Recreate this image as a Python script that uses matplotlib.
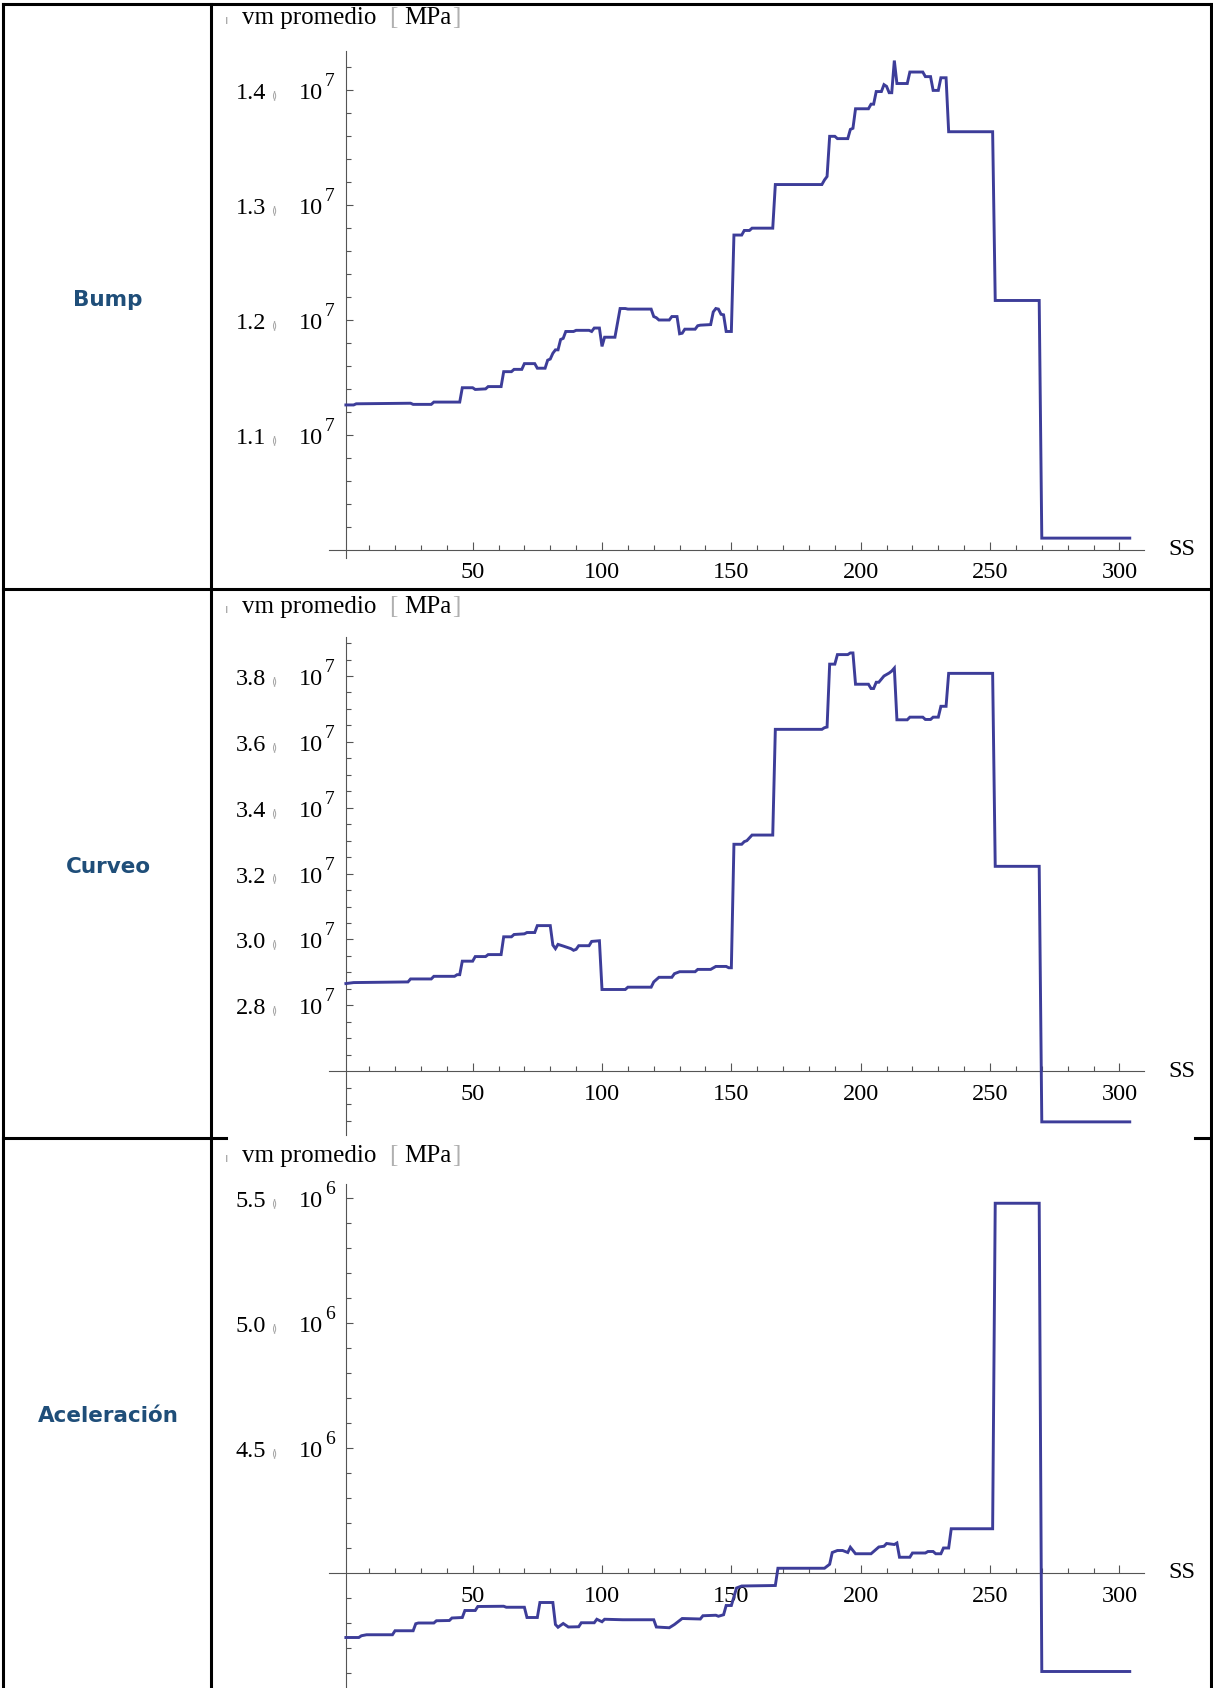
import matplotlib
matplotlib.use("Agg")
import matplotlib.pyplot as plt
from matplotlib.lines import Line2D
from matplotlib.ticker import FixedLocator, NullFormatter

# ---------------------------------------------------------------- data
row_titles = ["Bump", "Curveo", "Aceleración"]

ss_bump = [1, 4, 5, 26, 27, 34, 35, 45, 46, 50, 51, 55, 56, 61, 62, 65, 66, 69, 70, 74,
           75, 78, 79, 80, 81, 82, 83, 84, 85, 86, 89, 90, 95, 96, 97, 99, 100, 101, 105, 107,
           109, 110, 119, 120, 121, 122, 126, 127, 129, 130, 131, 132, 136, 137, 138, 142, 143, 144, 145, 146,
           147, 148, 150, 151, 154, 155, 157, 158, 166, 167, 185, 186, 187, 188, 190, 191, 195, 196, 197, 198,
           203, 204, 205, 206, 208, 209, 210, 211, 212, 213, 214, 218, 219, 224, 225, 227, 228, 230, 231, 233,
           234, 251, 252, 269, 270, 304]
vm_bump = [11.26e6, 11.26e6, 11.27e6, 11.275e6, 11.265e6, 11.265e6, 11.285e6, 11.285e6, 11.41e6, 11.41e6,
           11.395e6, 11.40e6, 11.42e6, 11.42e6, 11.55e6, 11.55e6, 11.57e6, 11.57e6, 11.62e6, 11.62e6,
           11.58e6, 11.58e6, 11.65e6, 11.66e6, 11.71e6, 11.74e6, 11.74e6, 11.83e6, 11.84e6, 11.90e6,
           11.90e6, 11.91e6, 11.91e6, 11.90e6, 11.93e6, 11.93e6, 11.77e6, 11.85e6, 11.85e6, 12.10e6,
           12.10e6, 12.095e6, 12.095e6, 12.03e6, 12.02e6, 12.00e6, 12.00e6, 12.03e6, 12.03e6, 11.88e6,
           11.885e6, 11.92e6, 11.92e6, 11.95e6, 11.955e6, 11.96e6, 12.07e6, 12.10e6, 12.095e6, 12.05e6,
           12.045e6, 11.90e6, 11.90e6, 12.74e6, 12.74e6, 12.78e6, 12.78e6, 12.80e6, 12.80e6, 13.18e6,
           13.18e6, 13.22e6, 13.25e6, 13.60e6, 13.60e6, 13.58e6, 13.58e6, 13.66e6, 13.67e6, 13.84e6,
           13.84e6, 13.88e6, 13.88e6, 13.99e6, 13.99e6, 14.05e6, 14.035e6, 13.98e6, 13.98e6, 14.26e6,
           14.06e6, 14.06e6, 14.16e6, 14.16e6, 14.12e6, 14.12e6, 14.00e6, 14.00e6, 14.11e6, 14.11e6,
           13.64e6, 13.64e6, 12.17e6, 12.17e6, 10.10e6, 10.10e6]

ss_curveo = [1, 4, 25, 26, 34, 35, 43, 44, 45, 46, 50, 51, 55, 56, 61, 62, 65, 66, 70, 71,
             74, 75, 80, 81, 82, 83, 85, 88, 89, 90, 91, 95, 96, 99, 100, 109, 110, 119, 120, 122,
             127, 128, 130, 136, 137, 142, 144, 148, 149, 150, 151, 154, 155, 156, 158, 166, 167, 185, 186, 187,
             188, 190, 191, 195, 196, 197, 198, 203, 204, 205, 206, 207, 209, 211, 212, 213, 214, 218, 219, 224,
             225, 227, 228, 230, 231, 233, 234, 251, 252, 269, 270, 304]
vm_curveo = [28.66e6, 28.69e6, 28.71e6, 28.80e6, 28.80e6, 28.88e6, 28.88e6, 28.93e6, 28.93e6, 29.34e6,
             29.34e6, 29.48e6, 29.48e6, 29.54e6, 29.54e6, 30.08e6, 30.08e6, 30.15e6, 30.17e6, 30.21e6,
             30.21e6, 30.42e6, 30.42e6, 29.83e6, 29.72e6, 29.85e6, 29.80e6, 29.72e6, 29.67e6, 29.70e6,
             29.81e6, 29.81e6, 29.94e6, 29.96e6, 28.48e6, 28.48e6, 28.55e6, 28.55e6, 28.71e6, 28.85e6,
             28.85e6, 28.96e6, 29.02e6, 29.02e6, 29.09e6, 29.09e6, 29.18e6, 29.18e6, 29.14e6, 29.14e6,
             32.89e6, 32.89e6, 32.97e6, 33.00e6, 33.17e6, 33.17e6, 36.38e6, 36.38e6, 36.43e6, 36.45e6,
             38.36e6, 38.36e6, 38.65e6, 38.65e6, 38.70e6, 38.70e6, 37.75e6, 37.75e6, 37.62e6, 37.62e6,
             37.81e6, 37.81e6, 38.00e6, 38.09e6, 38.15e6, 38.24e6, 36.67e6, 36.67e6, 36.75e6, 36.75e6,
             36.68e6, 36.68e6, 36.75e6, 36.75e6, 37.08e6, 37.08e6, 38.08e6, 38.08e6, 32.22e6, 32.22e6,
             24.46e6, 24.46e6]

ss_acel = [1, 6, 7, 9, 19, 20, 27, 28, 29, 35, 36, 41, 42, 46, 47, 51, 52, 62, 63, 70,
           71, 75, 76, 81, 82, 83, 85, 87, 91, 92, 97, 98, 100, 101, 108, 120, 121, 126, 128, 131,
           138, 139, 144, 145, 147, 148, 150, 151, 152, 154, 167, 168, 186, 188, 189, 191, 193, 195, 196, 198,
           204, 205, 207, 209, 210, 213, 214, 215, 219, 220, 225, 226, 228, 229, 231, 232, 234, 235, 251, 252,
           269, 270, 304]
vm_acel = [3.742e6, 3.742e6, 3.749e6, 3.753e6, 3.753e6, 3.769e6, 3.769e6, 3.797e6, 3.800e6, 3.800e6,
           3.809e6, 3.810e6, 3.820e6, 3.822e6, 3.850e6, 3.850e6, 3.866e6, 3.867e6, 3.863e6, 3.863e6,
           3.822e6, 3.822e6, 3.882e6, 3.882e6, 3.794e6, 3.783e6, 3.798e6, 3.784e6, 3.785e6, 3.801e6,
           3.801e6, 3.815e6, 3.805e6, 3.815e6, 3.813e6, 3.813e6, 3.784e6, 3.781e6, 3.794e6, 3.818e6,
           3.816e6, 3.829e6, 3.831e6, 3.827e6, 3.833e6, 3.870e6, 3.870e6, 3.905e6, 3.940e6, 3.948e6,
           3.950e6, 4.019e6, 4.019e6, 4.035e6, 4.082e6, 4.090e6, 4.090e6, 4.082e6, 4.103e6, 4.077e6,
           4.077e6, 4.086e6, 4.104e6, 4.107e6, 4.118e6, 4.114e6, 4.120e6, 4.063e6, 4.063e6, 4.080e6,
           4.080e6, 4.086e6, 4.086e6, 4.077e6, 4.077e6, 4.100e6, 4.100e6, 4.177e6, 4.177e6, 5.479e6,
           5.479e6, 3.606e6, 3.606e6]

x_major = [50, 100, 150, 200, 250, 300]
x_minor = [v for v in range(10, 310, 10) if v not in x_major]

# y axis: origin value, labelled ticks, minor ticks, exponent
y_origin = [1.0e7, 2.6e7, 4.0e6]
y_major = [[1.1e7, 1.2e7, 1.3e7, 1.4e7],
           [2.8e7, 3.0e7, 3.2e7, 3.4e7, 3.6e7, 3.8e7],
           [4.5e6, 5.0e6, 5.5e6]]
y_minor = [[10.2e6, 10.4e6, 10.6e6, 10.8e6, 11.2e6, 11.4e6, 11.6e6, 11.8e6, 12.2e6, 12.4e6,
            12.6e6, 12.8e6, 13.2e6, 13.4e6, 13.6e6, 13.8e6, 14.2e6],
           [24.5e6, 25.0e6, 25.5e6, 26.5e6, 27.0e6, 27.5e6, 28.5e6, 29.0e6, 29.5e6, 30.5e6,
            31.0e6, 31.5e6, 32.5e6, 33.0e6, 33.5e6, 34.5e6, 35.0e6, 35.5e6, 36.5e6, 37.0e6,
            37.5e6, 38.5e6, 39.0e6],
           [3.6e6, 3.7e6, 3.8e6, 3.9e6, 4.1e6, 4.2e6, 4.3e6, 4.4e6, 4.6e6, 4.7e6,
            4.8e6, 4.9e6, 5.1e6, 5.2e6, 5.3e6, 5.4e6]]
y_exp = [7, 7, 6]

series = [(ss_bump, vm_bump), (ss_curveo, vm_curveo), (ss_acel, vm_acel)]

# ---------------------------------------------------------------- style
W, H, DPI = 1213, 1688, 100
plt.rcParams["font.family"] = ["Liberation Serif", "DejaVu Sans"]
LINE = "#3d3d99"
AX = "#555555"
TXT = 17.5

fig = plt.figure(figsize=(W / DPI, H / DPI), dpi=DPI)
fig.patch.set_facecolor("white")


def fx(px):
    return px / W


def fy(py):
    return 1 - py / H


def hline(y, x0, x1, lw=2.2):
    fig.add_artist(Line2D([fx(x0), fx(x1)], [fy(y), fy(y)], transform=fig.transFigure,
                          color="black", lw=lw, solid_capstyle="projecting"))


def vline(x, y0, y1, lw=2.2):
    fig.add_artist(Line2D([fx(x), fx(x)], [fy(y0), fy(y1)], transform=fig.transFigure,
                          color="black", lw=lw, solid_capstyle="projecting"))


# table grid
hline(4, 3, 1211)
hline(589, 3, 1211)
hline(1138, 3, 226)
hline(1138, 1195, 1211)
vline(3, 4, 1688)
vline(211, 4, 1688)
vline(1211, 4, 1688)

row_centres = [300, 867, 1416]
for title, yc in zip(row_titles, row_centres):
    fig.text(fx(108), fy(yc), title, ha="center", va="center", fontsize=15.5,
             fontweight="bold", color="#1f4e79", family=["DejaVu Sans"])

# panel geometry (pixels)
X0_PX, XS = 343.3, 2.587          # x = 0 position and px per unit
XLIM = (-12, 320)
X_AXIS_SPAN = (-5.4, 309.5)
panels = [
    dict(ref=14.0e6, ref_px=90.4, ys=114.8e-6, ylim=(9.7e6, 14.5e6), span=(9.93e6, 14.34e6), title_y=24),
    dict(ref=38.0e6, ref_px=676.0, ys=32.93e-6, ylim=(23.9e6, 39.4e6), span=(24.05e6, 39.18e6), title_y=613),
    dict(ref=5.5e6, ref_px=1198.0, ys=250e-6, ylim=(3.5e6, 5.62e6), span=(3.52e6, 5.556e6), title_y=1162),
]

for i, (p, (xs_, ys_)) in enumerate(zip(panels, series)):
    left = X0_PX + XS * XLIM[0]
    right = X0_PX + XS * XLIM[1]
    top = p["ref_px"] - (p["ylim"][1] - p["ref"]) * p["ys"]
    bottom = p["ref_px"] + (p["ref"] - p["ylim"][0]) * p["ys"]
    ax = fig.add_axes([fx(left), fy(bottom), (right - left) / W, (bottom - top) / H])
    ax.patch.set_visible(False)
    ax.set_xlim(*XLIM)
    ax.set_ylim(*p["ylim"])

    ax.plot(xs_, ys_, color=LINE, lw=2.1, zorder=3, solid_joinstyle="miter")

    for s in ("top", "right"):
        ax.spines[s].set_visible(False)
    ax.spines["bottom"].set_position(("data", y_origin[i]))
    ax.spines["left"].set_position(("data", 1))
    ax.spines["bottom"].set_bounds(*X_AXIS_SPAN)
    ax.spines["left"].set_bounds(*p["span"])
    for s in ("bottom", "left"):
        ax.spines[s].set_color(AX)
        ax.spines[s].set_linewidth(0.8)

    ax.xaxis.set_major_locator(FixedLocator(x_major))
    ax.xaxis.set_minor_locator(FixedLocator(x_minor))
    ax.yaxis.set_major_locator(FixedLocator(y_major[i]))
    ax.yaxis.set_minor_locator(FixedLocator(y_minor[i]))
    ax.yaxis.set_major_formatter(NullFormatter())
    ax.tick_params(axis="x", which="major", direction="in", length=6, width=0.8, color=AX,
                   labelsize=TXT, pad=9)
    ax.tick_params(axis="x", which="minor", direction="in", length=3.6, width=0.8, color=AX)
    ax.tick_params(axis="y", which="major", direction="in", length=5.2, width=0.8, color=AX)
    ax.tick_params(axis="y", which="minor", direction="in", length=3.4, width=0.8, color=AX)

    # y tick labels: mantissa, multiplication sign, power of ten
    for v in y_major[i]:
        mant = "%.1f" % (v / 10 ** y_exp[i])
        ax.annotate(mant, xy=(1, v), xytext=(-80, -9), textcoords="offset pixels",
                    ha="right", va="baseline", fontsize=TXT, annotation_clip=False)
        ax.annotate("\u226c", xy=(1, v), xytext=(-72, -8), textcoords="offset pixels",
                    ha="center", va="baseline", fontsize=8, color="#a8a8a8",
                    family=["DejaVu Sans"], annotation_clip=False)
        ax.annotate("10", xy=(1, v), xytext=(-23, -9), textcoords="offset pixels",
                    ha="right", va="baseline", fontsize=TXT, annotation_clip=False)
        ax.annotate(str(y_exp[i]), xy=(1, v), xytext=(-21, 4), textcoords="offset pixels",
                    ha="left", va="baseline", fontsize=14, annotation_clip=False)

    ax.annotate("SS", xy=(X_AXIS_SPAN[1], y_origin[i]), xytext=(24, 0), textcoords="offset pixels",
                ha="left", va="center", fontsize=TXT, annotation_clip=False)

    # axis title above the y axis
    ty = p["title_y"]
    fig.text(fx(227), fy(ty), "\u0131", ha="center", va="baseline", fontsize=9, color="#a0a0a0",
             family=["DejaVu Sans"])
    fig.text(fx(242), fy(ty), "vm promedio", ha="left", va="baseline", fontsize=18)
    fig.text(fx(393), fy(ty), "[", ha="center", va="baseline", fontsize=18, color="#b0b0b0")
    fig.text(fx(404), fy(ty), "MPa", ha="left", va="baseline", fontsize=18)
    fig.text(fx(456), fy(ty), "]", ha="center", va="baseline", fontsize=18, color="#b0b0b0")

fig.savefig("out.png", dpi=DPI, facecolor="white")
